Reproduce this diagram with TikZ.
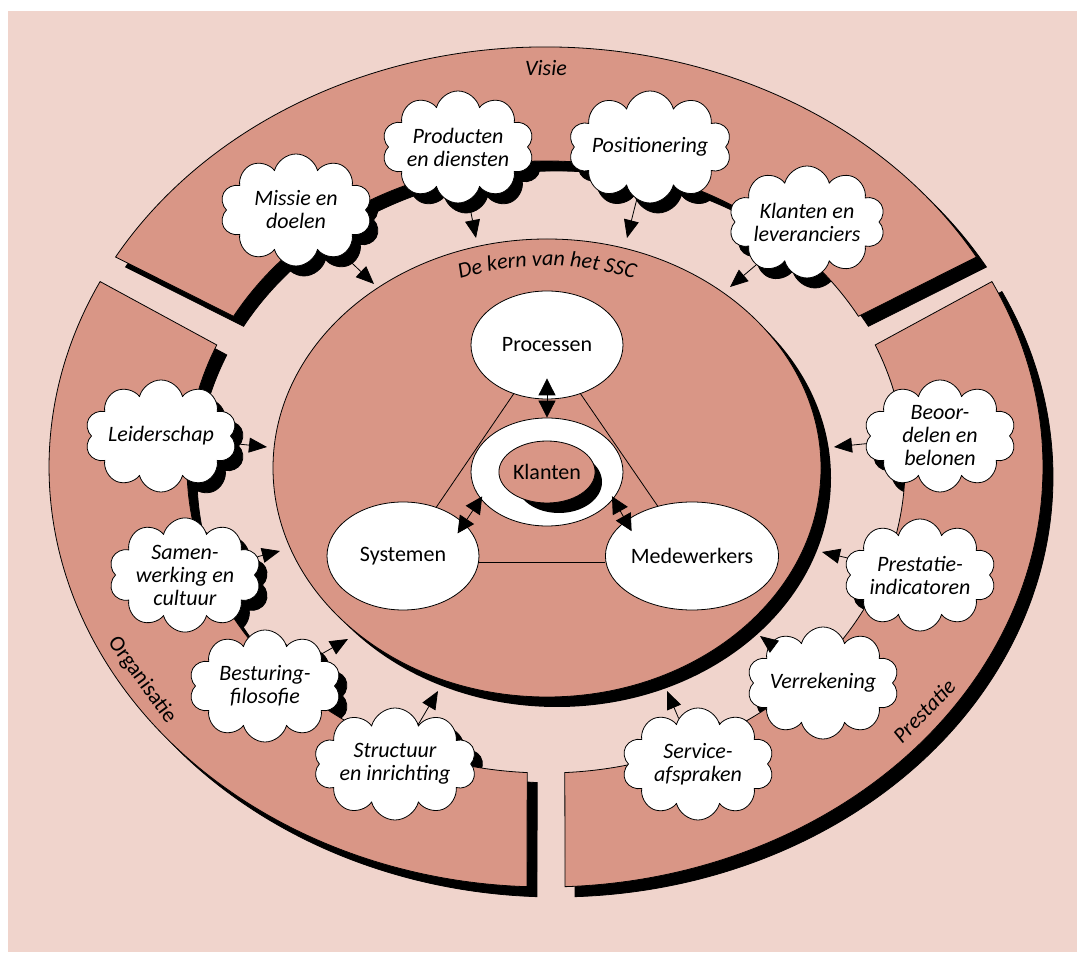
\documentclass[tikz,border=0pt]{standalone}
\usepackage{fontspec}
\setmainfont{Carlito}
\usetikzlibrary{arrows.meta,shapes.geometric,shapes.symbols,calc,decorations.text}

\definecolor{achtergrond}{RGB}{240,212,204}
\definecolor{band}{RGB}{217,150,134}

% wolken: x/y/naam/pijlpunt x/pijlpunt y/tekst
\newcommand{\wolken}{%
  296/752/missie/374/678/{Missie en\\doelen},
  458/815/producten/476/724/{Producten\\en diensten},
  650/815/positie/627/724/{Positionering},
  807/740/leveranciers/730/675/{Klanten en\\leveranciers},
  161/526/leiderschap/267/515/{Leiderschap},
  185/387/samenwerking/280/411/{Samen-\\werking en\\cultuur},
  265/276/besturing/348/323/{Besturing-\\filosofie},
  395/198/structuur/438/271/{Structuur\\en inrichting},
  940/526/beoordelen/834/515/{Beoor-\\delen en\\belonen},
  920/387/indicatoren/822/410/{Prestatie-\\indicatoren},
  823/279/verrekening/760/326/{Verrekening},
  698/198/service/667/271/{Service-\\afspraken}}

\begin{document}
\begin{tikzpicture}[x=1pt,y=1pt,line width=0.8pt]
  \tikzstyle{every node}+=[inner sep=0pt, font=\fontsize{22}{23}\selectfont]
  \tikzstyle{wolk}=[cloud, cloud puffs=10, cloud ignores aspect, draw, fill=white,
    minimum width=152, minimum height=112, align=center,
    font=\itshape\fontsize{22}{23}\selectfont]
  \tikzstyle{ovaal}=[ellipse, draw, fill=white, minimum width=152, minimum height=108]
  \tikzstyle{pijl}=[-{Triangle[length=18pt,width=15pt]}]
  \tikzstyle{dubbelpijl}=[{Triangle[length=17pt,width=17pt]}-{Triangle[length=17pt,width=17pt]}]

  \useasboundingbox (0,0) rectangle (1077,962);
  \fill[achtergrond] (8,10) rectangle (1077,951);

  % schaduw van de wolken, valt onder de ringdelen
  \foreach \x/\y/\naam/\px/\py/\tekst in \wolken
    \node[wolk, fill=black, text=black] at (\x+8,\y-10) {\tekst};

  % ring: eerst schaduw, dan Visie, Organisatie, Prestatie
  \foreach \mx/\my/\kleur in {556/485/black, 546/495/band}
    \foreach \a/\b/\c/\d in {30/150/150.5/29.5, 153.8/267.8/267/156.5, 272.2/386.2/383.5/273}
      \filldraw[fill=\kleur] ($(\mx,\my)+(\a:497 and 420)$)
        arc[start angle=\a, end angle=\b, x radius=497, y radius=420]
        -- ($(\mx,\my)+(\c:359 and 306)$)
        arc[start angle=\c, end angle=\d, x radius=359, y radius=306] -- cycle;

  \node[font=\itshape\fontsize{22}{23}\selectfont] (visie) at (546,894) {Visie};
  \node[rotate=-54] (organisatie) at (142,282) {Organisatie};
  \node[rotate=46, font=\itshape\fontsize{22}{23}\selectfont] (prestatie) at (924,251) {Prestatie};

  % de kern
  \fill[black] (557,484) ellipse[x radius=274, y radius=229];
  \node[ellipse, draw, fill=band, minimum width=548, minimum height=458] (kern) at (547,494) {};
  \path[decorate, decoration={text along path, text align=center,
      text={|\itshape\fontsize{22}{24}\selectfont|De kern van het SSC}}]
    (416.1,665.2) arc[start angle=122, end angle=58, x radius=247, y radius=203];

  \node[ovaal] (proc) at (547,617) {Processen};
  \node[ovaal] (klant) at (547,490) {};
  \node[ovaal] (sys) at (403,406) {Systemen};
  \node[ovaal] (mede) at (692,406) {Medewerkers};
  \draw (proc) -- (sys);
  \draw (proc) -- (mede);
  \draw ([yshift=-6]sys.east) -- ([yshift=-6]mede.west);

  \fill[black] (559,480) ellipse[x radius=43, y radius=31];
  \node[ellipse, draw, fill=band, minimum width=86, minimum height=62] (klanten) at (547,490) {Klanten};

  \draw[dubbelpijl, shorten <=-21pt] (proc.south) -- (klant.north);
  \draw[dubbelpijl, shorten <=-3pt, shorten >=-12pt] (klant.202) -- (sys.28);
  \draw[dubbelpijl, shorten <=-3pt, shorten >=-12pt] (klant.338) -- (mede.152);

  % wolken met pijl naar de kern
  \foreach \x/\y/\naam/\px/\py/\tekst in \wolken {
    \node[wolk] (\naam) at (\x,\y) {\tekst};
    \coordinate (p\naam) at (\px,\py);
  }
  \foreach \x/\y/\naam/\px/\py/\tekst in \wolken
    \draw[pijl] (\naam) -- (p\naam);
\end{tikzpicture}
\end{document}
